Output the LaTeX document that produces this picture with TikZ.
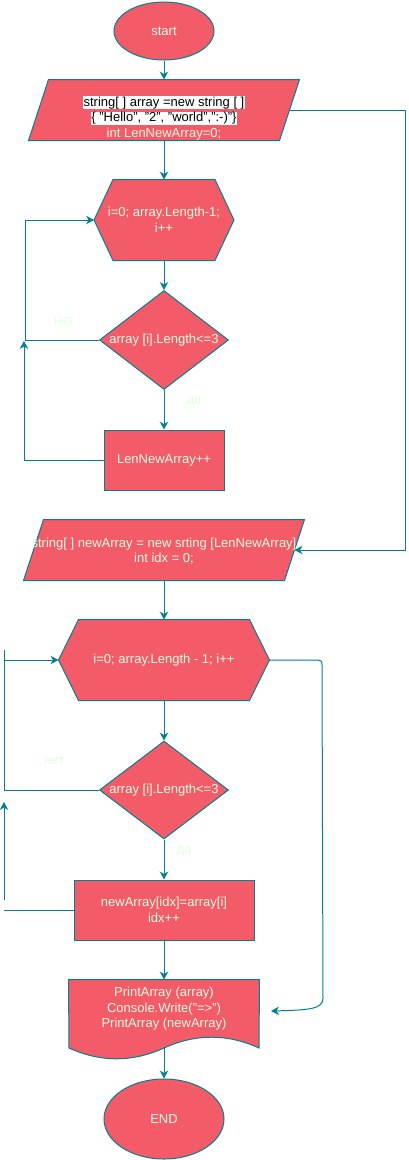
\documentclass[tikz,border=0pt]{standalone}
\usepackage{fontspec}
\setmainfont{Liberation Sans}
\usetikzlibrary{shapes.geometric,arrows.meta,backgrounds,calc}
\definecolor{fillc}{HTML}{F45B69}
\definecolor{linec}{HTML}{028090}
\definecolor{fontc}{HTML}{E4FDE1}
\newcommand{\hlw}[1]{{\setlength{\fboxsep}{0.6pt}\colorbox{white}{\textcolor{black}{#1}}}}
\begin{document}
\begin{tikzpicture}[x=1pt,y=-1pt,
  base/.style={fill=fillc,draw=linec,line width=1pt,text=fontc,font=\fontsize{13}{15.5}\selectfont,inner sep=0pt,align=center},
  term/.style={base,ellipse},
  plain/.style={base,fill=none,draw=none,rectangle},
  cond/.style={base,diamond},
  proc/.style={base,rectangle},
  shapebg/.style={fill=fillc,draw=linec,line width=1pt},
  arr/.style={draw=linec,line width=1pt,-{Stealth[length=8pt,width=8.5pt,inset=2.5pt]}},
  conn/.style={draw=linec,line width=1pt},
  lbl/.style={text=fontc,font=\fontsize{13}{15.5}\selectfont,inner sep=0pt,align=center}
]
\useasboundingbox (0,0) rectangle (409,1160);

% nodes
\node[term,minimum width=100pt,minimum height=58pt] (start) at (164,31) {start};
\node[plain,minimum width=270pt,minimum height=60pt] (p1) at (164,110) {};
\node[lbl] (p1t) at (164,118) {\hlw{string[ ] array =new string [ ]}\\\hlw{\{ "Hello", "2", "world",":-)"\}}\\int LenNewArray=0;};
\node[plain,minimum width=139pt,minimum height=80pt] (h1) at (164,220) {i=0; array.Length-1;\\i++};
\node[cond,minimum width=129pt,minimum height=99pt] (dm1) at (164,340) {\makebox[0pt]{array [i].Length<=3}};
\node[proc,minimum width=120pt,minimum height=60pt] (b1) at (164,460) {LenNewArray++};
\node[plain,minimum width=280pt,minimum height=60pt] (p2) at (164,550) {};
\node[lbl] (p2t) at (164,551) {string[ ] newArray = new srting [LenNewArray]\\int idx = 0;};
\node[plain,minimum width=210pt,minimum height=80pt] (h2) at (164,660) {i=0; array.Length - 1; i++};
\node[cond,minimum width=129pt,minimum height=98pt] (dm2) at (164,790) {\makebox[0pt]{array [i].Length<=3}};
\node[proc,minimum width=180pt,minimum height=60pt] (b2) at (164,910) {newArray[idx]=array[i]\\idx++};
\node[plain,minimum width=190pt,minimum height=80pt] (doc) at (164,1020) {};
\node[lbl] (doct) at (164,1009) {PrintArray (array)\\Console.Write("=>")\\PrintArray (newArray)};
\node[term,minimum width=120pt,minimum height=80pt] (end) at (164,1119) {END};

% labels
\node[lbl] (no1) at (64,321) {нет};
\node[lbl] (yes1) at (194,401) {да};
\node[lbl] (no2) at (54,761) {нет};
\node[lbl] (yes2) at (184,851) {да};

% custom shapes on background
\begin{scope}[on background layer]
\filldraw[shapebg] ([xshift=20pt]p1.north west) -- (p1.north east) -- ([xshift=-20pt]p1.south east)
  -- (p1.south west) -- cycle;
\filldraw[shapebg] ([xshift=20pt]p2.north west) -- (p2.north east) -- ([xshift=-20pt]p2.south east)
  -- (p2.south west) -- cycle;
\filldraw[shapebg] ([xshift=19pt]h1.north west) -- ([xshift=-19pt]h1.north east) -- (h1.east)
  -- ([xshift=-19pt]h1.south east) -- ([xshift=19pt]h1.south west) -- (h1.west) -- cycle;
\filldraw[shapebg] ([xshift=20pt]h2.north west) -- ([xshift=-20pt]h2.north east) -- (h2.east)
  -- ([xshift=-20pt]h2.south east) -- ([xshift=20pt]h2.south west) -- (h2.west) -- cycle;
\filldraw[shapebg] (doc.north west) -- (doc.north east) -- (259,1048)
  .. controls (227.33,1033.6) and (195.67,1033.6) .. (164,1048)
  .. controls (132.33,1062.4) and (100.67,1062.4) .. (69,1048) -- cycle;
\end{scope}

% coordinates
\coordinate (j1) at (24,341);
\coordinate (l2top) at (4,650);
\coordinate (l2in) at (4,660);
\coordinate (l2a) at (4,900);
\coordinate (l2b) at (4,802);
\coordinate (dR) at (271,1011);
\coordinate (docb) at (164,1048);

% connectors
\draw[arr] (start) -- (p1.north);
\draw[arr] ([xshift=-10pt]p1.east) -- (405,110) |- ([xshift=-10pt]p2.east);
\draw[arr] (p1.south) -- (h1.north);
\draw[arr] (h1.south) -- (dm1.north);
\draw[arr] (dm1.south) -- (b1.north);
\draw[arr] (dm1.west) -- (25,340) |- (h1.west);
\draw[arr] (b1.west) -| (j1);
\draw[arr] (p2.south) -- (h2.north);
\draw[arr] (h2.south) -- (dm2.north);
\draw[arr] (dm2.south) -- (b2.north);
\draw[conn] (dm2.west) -- (4,790) -- (l2top);
\draw[arr] (l2in) -- (h2.west);
\draw[conn] (b2.west) -- (4,910);
\draw[arr] (l2a) -- (l2b);
\draw[arr] (b2.south) -- (doc.north);
\draw[arr] (h2.east) -- (318,660) .. controls (321,660) and (322,661) .. (322,665)
  -- (323,998) .. controls (323,1009) and (310,1010) .. (dR);
\draw[arr] (docb) -- (end.north);
\end{tikzpicture}
\end{document}
